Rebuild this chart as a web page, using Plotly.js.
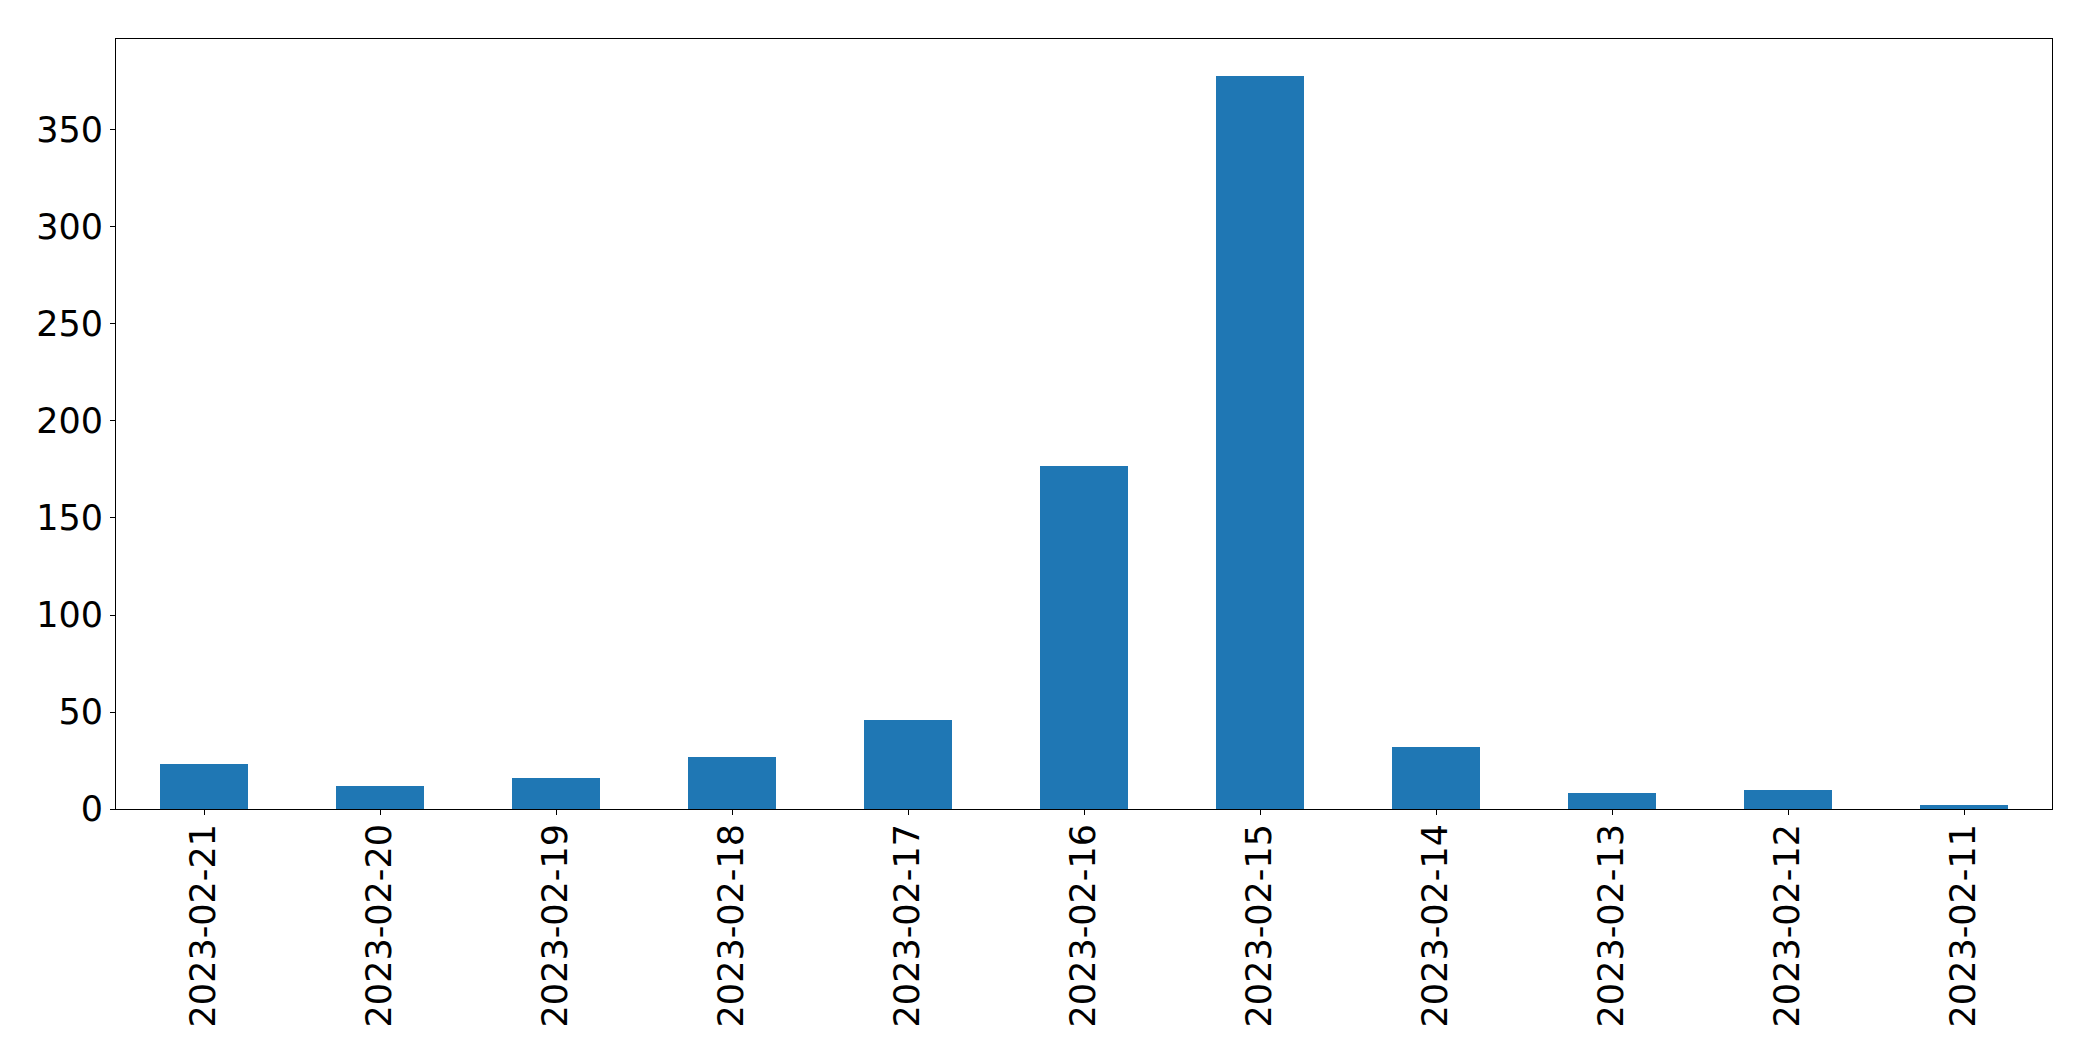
<!DOCTYPE html>
<html>
<head>
<meta charset="utf-8">
<script src="https://cdn.plot.ly/plotly-3.0.1.min.js"></script>
<style>html,body{margin:0;padding:0;background:#fff;}#chart{width:2093px;height:1061px;}</style>
</head>
<body>
<div id="chart"></div>
<script>
const dates = ["2023-02-21","2023-02-20","2023-02-19","2023-02-18","2023-02-17","2023-02-16","2023-02-15","2023-02-14","2023-02-13","2023-02-12","2023-02-11"];
const counts = [23, 12, 16, 27, 46, 177, 378, 32, 8, 10, 2];
const yTicks = [0, 50, 100, 150, 200, 250, 300, 350];

const trace = {
  type: "bar",
  x: dates.map((_, i) => i),
  y: counts,
  width: 0.5,
  marker: {color: "#1f77b4", line: {width: 0}},
  hoverinfo: "x+y"
};

const font = {family: "DejaVu Sans", size: 35, color: "#000"};
const layout = {
  width: 2093, height: 1061,
  margin: {l: 116, r: 41, t: 39, b: 252, pad: 0},
  paper_bgcolor: "#fff", plot_bgcolor: "#fff",
  showlegend: false,
  font: font,
  xaxis: {
    type: "linear",
    range: [-0.5, dates.length - 0.5],
    tickmode: "array",
    tickvals: dates.map((_, i) => i),
    ticktext: dates,
    tickangle: -90,
    ticks: "outside", ticklen: 5, tickwidth: 1, tickcolor: "#000",
    showgrid: false, zeroline: false,
    showline: true, linecolor: "#000", linewidth: 1, mirror: true,
    tickfont: font,
    ticklabelstandoff: -5
  },
  yaxis: {
    range: [0, 378 * 1.05],
    tickmode: "array",
    tickvals: yTicks,
    ticktext: yTicks.map(String),
    ticks: "outside", ticklen: 5, tickwidth: 1, tickcolor: "#000",
    showgrid: false, zeroline: false,
    showline: true, linecolor: "#000", linewidth: 1, mirror: true,
    tickfont: font
  },
  bargap: 0
};

Plotly.newPlot("chart", [trace], layout, {displayModeBar: false, staticPlot: true});
</script>
</body>
</html>
